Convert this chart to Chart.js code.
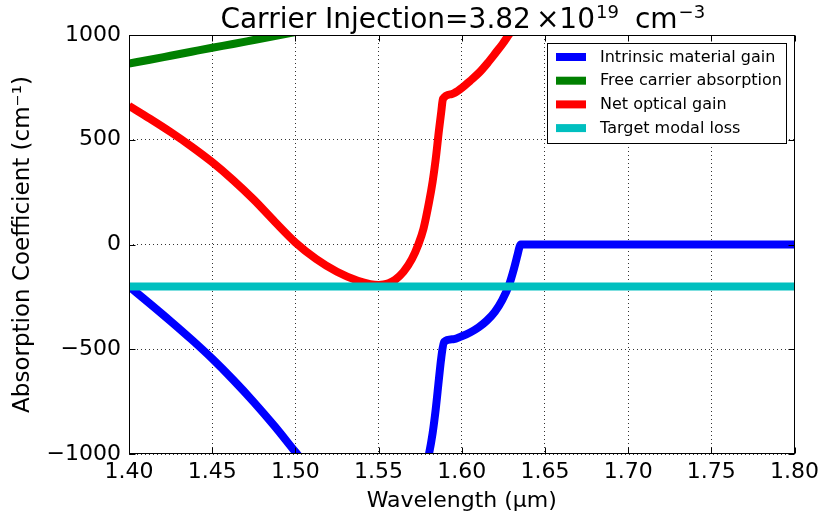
<!DOCTYPE html>
<html>
<head>
<meta charset="utf-8">
<script src="https://cdn.jsdelivr.net/npm/chart.js@4.4.1/dist/chart.umd.min.js"></script>
<style>
  html, body { margin: 0; padding: 0; background: #ffffff; }
  #wrap { width: 824px; height: 522px; }
</style>
</head>
<body>
<div id="wrap"><canvas id="chart" width="824" height="522"></canvas></div>
<script>
// Wavelength axis ticks (µm) and absorption axis ticks (cm^-1)
const wavelengthTicks = [1.40, 1.45, 1.50, 1.55, 1.60, 1.65, 1.70, 1.75, 1.80];
const absorptionTicks = [-1000, -500, 0, 500, 1000];

// Intrinsic material gain (expressed as absorption)
const intrinsicX = [1.40, 1.4125, 1.425, 1.4375, 1.45, 1.4625, 1.475, 1.4875, 1.50, 1.5125, 1.525, 1.55,
  1.5739, 1.577, 1.5803, 1.5825, 1.5843, 1.5863, 1.5877, 1.5893, 1.595, 1.60, 1.605, 1.61, 1.615, 1.62,
  1.6243, 1.6284, 1.6314, 1.6335, 1.6347, 1.6354, 1.70, 1.80];
const intrinsicY = [-200, -282, -366, -453, -545, -645, -752, -867, -990, -1110, -1200, -1260,
  -1200, -1110, -1000, -900, -790, -640, -540, -465, -452, -438, -420, -396, -364, -320,
  -265, -194, -115, -50, -12, 0, 0, 0];

// Free carrier absorption
const fcaX = [1.40, 1.4125, 1.425, 1.4375, 1.45, 1.4625, 1.475, 1.4875, 1.50, 1.5125, 1.525, 1.55];
const fcaY = [864, 882, 901, 920, 939, 957, 976, 995, 1014, 1033, 1052, 1091];

// Net optical gain (expressed as absorption)
const netX = [1.40, 1.4125, 1.425, 1.4375, 1.45, 1.4625, 1.475, 1.4875, 1.50, 1.5125, 1.525, 1.5375,
  1.545, 1.55, 1.553, 1.556, 1.56, 1.565, 1.57, 1.5739, 1.577, 1.5803, 1.5825, 1.5843, 1.5863, 1.5877,
  1.5887, 1.594, 1.60, 1.605, 1.6103, 1.6155, 1.6204, 1.6245, 1.6284, 1.635, 1.64];
const netY = [662, 601, 537, 468, 393, 308, 214, 110, 10, -69, -130, -173,
  -189, -193, -191, -185, -168, -130, -70, 0, 75, 200, 300, 404, 545, 635,
  695, 718, 747, 781, 819, 866, 915, 957, 1002, 1078, 1140];

// Target modal loss
const lossX = [1.40, 1.80];
const lossY = [-200, -200];

const seriesNames = ['Intrinsic material gain', 'Free carrier absorption', 'Net optical gain', 'Target modal loss'];
const seriesColors = ['#0000ff', '#008000', '#ff0000', '#00bfbf'];

const FONT = "'DejaVu Sans', 'Liberation Sans', sans-serif";
const pts = (xs, ys) => xs.map((x, i) => ({ x, y: ys[i] }));
const lineDs = (i, xs, ys, order) => ({
  label: seriesNames[i],
  data: pts(xs, ys),
  borderColor: seriesColors[i],
  backgroundColor: seriesColors[i],
  borderWidth: 8,
  pointRadius: 0,
  pointHoverRadius: 0,
  fill: false,
  showLine: true,
  cubicInterpolationMode: 'monotone',
  borderJoinStyle: 'round',
  borderCapStyle: 'butt',
  clip: 0,
  order
});

// Title with superscripts: "Carrier Injection=3.82 ×10^19 cm^-3"
const titlePlugin = {
  id: 'mathTitle',
  afterDraw(chart) {
    const ctx = chart.ctx;
    const a = chart.chartArea;
    const big = '28px ' + FONT, small = '18px ' + FONT;
    const base = 28, supBase = 17.5;
    const parts = [
      { t: 'Carrier Injection=3.82', f: big, b: base, gap: 5 },
      { t: '\u00d710', f: big, b: base, gap: 1 },
      { t: '19', f: small, b: supBase, gap: 16 },
      { t: 'cm', f: big, b: base, gap: 1 },
      { t: '\u22123', f: small, b: supBase, gap: 0 }
    ];
    ctx.save();
    let total = 0;
    parts.forEach(p => { ctx.font = p.f; p.w = ctx.measureText(p.t).width; total += p.w + p.gap; });
    let x = (a.left + a.right) / 2 - total / 2 + 1;
    ctx.fillStyle = '#000';
    ctx.textBaseline = 'alphabetic';
    ctx.textAlign = 'left';
    parts.forEach(p => { ctx.font = p.f; ctx.fillText(p.t, x, p.b); x += p.w + p.gap; });
    ctx.restore();
  }
};

// Axes frame, inward tick marks on all four sides, and the boxed legend
const framePlugin = {
  id: 'frameLegend',
  afterDatasetsDraw(chart) {
    const ctx = chart.ctx;
    const a = chart.chartArea;
    const xs = chart.scales.x, ys = chart.scales.y;
    const L = Math.round(a.left) + 0.5, R = Math.round(a.right) - 0.5;
    const T = Math.round(a.top) + 0.5, B = Math.round(a.bottom) - 0.5;
    ctx.save();
    ctx.strokeStyle = '#000';
    ctx.lineWidth = 1;
    ctx.beginPath();
    const tl = 6;
    wavelengthTicks.forEach(v => {
      const px = Math.round(xs.getPixelForValue(v)) + 0.5;
      ctx.moveTo(px, B); ctx.lineTo(px, B - tl);
      ctx.moveTo(px, T); ctx.lineTo(px, T + tl);
    });
    absorptionTicks.forEach(v => {
      const py = Math.round(ys.getPixelForValue(v)) + 0.5;
      ctx.moveTo(L, py); ctx.lineTo(L + tl, py);
      ctx.moveTo(R, py); ctx.lineTo(R - tl, py);
    });
    ctx.stroke();
    ctx.strokeRect(L, T, R - L, B - T);

    // legend box
    const bx = 547.5, by = 43.5, bw = 239, bh = 100;
    ctx.fillStyle = '#ffffff';
    ctx.fillRect(bx, by, bw, bh);
    ctx.strokeRect(bx, by, bw, bh);
    const rows = [57, 80.7, 104.4, 128.1];
    ctx.font = '16px ' + FONT;
    ctx.textBaseline = 'middle';
    ctx.textAlign = 'left';
    seriesNames.forEach((name, i) => {
      ctx.strokeStyle = seriesColors[i];
      ctx.lineWidth = 8;
      ctx.lineCap = 'butt';
      ctx.beginPath();
      ctx.moveTo(556, rows[i]);
      ctx.lineTo(586, rows[i]);
      ctx.stroke();
      ctx.fillStyle = '#000';
      ctx.fillText(name, 600, rows[i] + 0.5);
    });
    ctx.restore();
  }
};

new Chart(document.getElementById('chart'), {
  type: 'scatter',
  data: {
    datasets: [
      lineDs(0, intrinsicX, intrinsicY, 3),
      lineDs(1, fcaX, fcaY, 2),
      lineDs(2, netX, netY, 1),
      lineDs(3, lossX, lossY, 0)
    ]
  },
  options: {
    responsive: false,
    animation: false,
    devicePixelRatio: 1,
    layout: { padding: { left: 0, right: 28, top: 35, bottom: 0 } },
    plugins: {
      legend: { display: false },
      title: { display: false },
      tooltip: { enabled: false }
    },
    scales: {
      x: {
        type: 'linear',
        min: 1.40,
        max: 1.80,
        afterFit(scale) { scale.height = 68; },
        afterBuildTicks(scale) { scale.ticks = wavelengthTicks.map(v => ({ value: v })); },
        ticks: {
          autoSkip: false,
          maxRotation: 0,
          padding: 5,
          color: '#000',
          font: { family: FONT, size: 22 },
          callback: v => v.toFixed(2)
        },
        grid: { color: 'rgba(0,0,0,0.8)', lineWidth: 1, drawTicks: false },
        border: { display: false, dash: [1, 3] },
        title: {
          display: true,
          text: 'Wavelength (\u03bcm)',
          color: '#000',
          font: { family: FONT, size: 22 },
          padding: { top: 0, bottom: 8 }
        }
      },
      y: {
        type: 'linear',
        min: -1000,
        max: 1000,
        afterFit(scale) { scale.width = 129; },
        afterBuildTicks(scale) { scale.ticks = absorptionTicks.map(v => ({ value: v })); },
        ticks: {
          padding: 8,
          color: '#000',
          font: { family: FONT, size: 22 },
          callback: v => (v < 0 ? '\u2212' + Math.abs(v) : String(v))
        },
        grid: { color: 'rgba(0,0,0,0.8)', lineWidth: 1, drawTicks: false },
        border: { display: false, dash: [1, 3] },
        title: {
          display: true,
          text: 'Absorption Coefficient (cm\u207b\u00b9)',
          color: '#000',
          font: { family: FONT, size: 23 },
          padding: { top: 9, bottom: 0 }
        }
      }
    }
  },
  plugins: [titlePlugin, framePlugin]
});
</script>
</body>
</html>
